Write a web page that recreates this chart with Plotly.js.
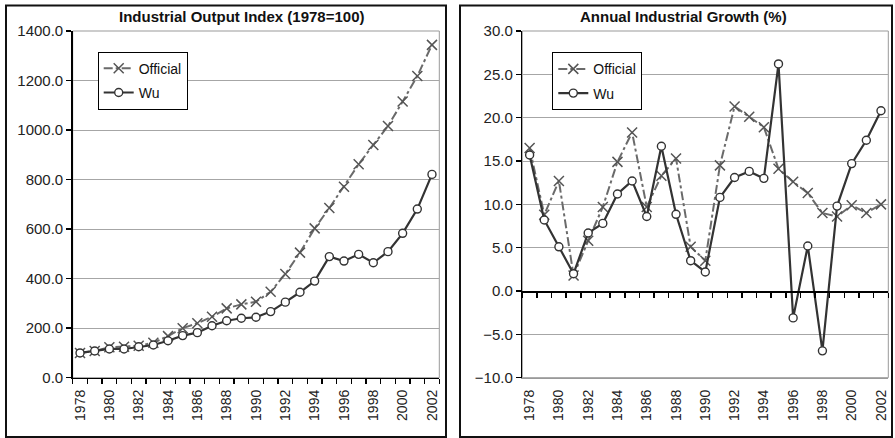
<!DOCTYPE html>
<html>
<head>
<meta charset="utf-8">
<script src="https://cdn.plot.ly/plotly-3.0.1.min.js"></script>
<style>
html,body{margin:0;padding:0;background:#fff;}
#chart{width:895px;height:438px;}
</style>
</head>
<body>
<div id="chart"></div>
<script>
// ---- data ----
const years = [1978,1979,1980,1981,1982,1983,1984,1985,1986,1987,1988,1989,1990,1991,1992,1993,1994,1995,1996,1997,1998,1999,2000,2001,2002];
const officialIndex = [100,108,123,125,129,141,168,200,220,246,280,296,307,347,419,505,603,685,771,862,940,1016,1115,1218,1344];
const wuIndex = [100,108,116,116,125,132,149,170,182,210,230,240,244,267,305,345,390,489,471,498,464,509,583,681,821];
const officialGrowth = [16.5,8.8,12.7,1.8,5.8,9.7,14.9,18.3,9.7,13.3,15.3,5.1,3.5,14.5,21.3,20.1,18.9,14.1,12.6,11.3,9.0,8.6,9.9,9.0,10.0];
const wuGrowth = [15.7,8.2,5.1,2.0,6.7,7.8,11.2,12.7,8.6,16.7,8.85,3.5,2.2,10.8,13.1,13.8,13.0,26.2,-3.1,5.2,-6.9,9.8,14.7,17.4,20.8];
const leftTitle = 'Industrial Output Index (1978=100)';
const rightTitle = 'Annual Industrial Growth (%)';
const seriesNames = ['Official','Wu'];

// ---- derived helpers ----
const labelYears = years.filter((y,i)=>i%2===0);
const boundaries = years.map(y=>y-0.5).concat([years[years.length-1]+0.5]);
const xr = [years[0]-0.5, years[years.length-1]+0.5];

const W = 895, H = 438;
const yDom = [(H-377.7)/H, (H-31)/H];
const xDomL = [72.7/W, 439.3/W];
const xDomR = [522.3/W, 888.3/W];
const rRange = [-10,30];
const zeroPos = yDom[0] + (yDom[1]-yDom[0]) * (0 - rRange[0])/(rRange[1]-rRange[0]);

const FONT = 'Liberation Sans, Arial, Helvetica, sans-serif';
const offLine = {color:'#6a6a6a', width:2, dash:'9px,3px,3px,3px'};
const offMarker = {symbol:'x-thin', size:10, color:'#555', line:{color:'#555', width:1.5}};
const wuLine = {color:'#333', width:2.2};
const wuMarker = {symbol:'circle', size:8, color:'#fff', line:{color:'#333', width:1.4}};

const ghost = (xa, ya, yv) => ({x:years, y:yv, mode:'lines', line:{width:0, color:'rgba(0,0,0,0)'}, opacity:0,
  showlegend:false, hoverinfo:'skip', xaxis:xa, yaxis:ya});

const traces = [
  ghost('x3','y', wuIndex),
  ghost('x4','y2', wuGrowth),
  {x:years, y:officialIndex, name:seriesNames[0], mode:'lines+markers', line:offLine, marker:offMarker, xaxis:'x', yaxis:'y', legend:'legend', legendgroup:'a'},
  {x:years, y:wuIndex, name:seriesNames[1], mode:'lines+markers', line:wuLine, marker:wuMarker, xaxis:'x', yaxis:'y', legend:'legend', legendgroup:'b'},
  {x:years, y:officialGrowth, name:seriesNames[0], mode:'lines+markers', line:offLine, marker:offMarker, xaxis:'x2', yaxis:'y2', legend:'legend2', legendgroup:'c'},
  {x:years, y:wuGrowth, name:seriesNames[1], mode:'lines+markers', line:wuLine, marker:wuMarker, xaxis:'x2', yaxis:'y2', legend:'legend2', legendgroup:'d'}
];

const tickFontX = {family:FONT, size:14, color:'#222'};
const tickFontY = {family:FONT, size:15, color:'#222'};

function labelAxis(domain, anchor, lineColor){
  return {domain:domain, anchor:anchor, range:xr, tickmode:'array', tickvals:labelYears, ticktext:labelYears.map(String),
    tickangle:-90, ticks:'outside', ticklen:5, tickcolor:'rgba(0,0,0,0)', showline:true, linecolor:lineColor, linewidth:1.5,
    showgrid:false, zeroline:false, tickfont:tickFontX, fixedrange:true};
}
function tickAxis(over, anchor, position){
  const a = {overlaying:over, range:xr, tickmode:'array', tickvals:boundaries, ticks:'outside', ticklen:5, tickcolor:'#000', tickwidth:1.5,
    showticklabels:false, showgrid:false, zeroline:false, showline:true, linecolor:'#000', linewidth:1.5, fixedrange:true};
  if (position !== undefined && position !== null){ a.anchor='free'; a.position=position; } else { a.anchor=anchor; }
  return a;
}
function valAxis(domain, anchor, range, dtick){
  return {domain:domain, anchor:anchor, range:range, dtick:dtick, tick0:0, tickformat:'.1f', ticks:'outside', ticklen:5, tickcolor:'#000', tickwidth:1.5,
    showline:true, linecolor:'#000', linewidth:1.5, gridcolor:'#a6a6a6', gridwidth:1, zeroline:false, tickfont:tickFontY, fixedrange:true};
}

const legendBase = {bgcolor:'#fff', bordercolor:'#000', borderwidth:1, font:{family:FONT, size:14, color:'#111'},
  xanchor:'left', yanchor:'top', tracegroupgap:3, traceorder:'grouped'};

const layout = {
  width:W, height:H, margin:{l:0,r:0,t:0,b:0}, paper_bgcolor:'#fff', plot_bgcolor:'#fff',
  font:{family:FONT},
  showlegend:true,
  legend:Object.assign({}, legendBase, {x:97.7/W, y:1-51.7/H}),
  legend2:Object.assign({}, legendBase, {x:552.3/W, y:1-52.3/H}),
  xaxis:labelAxis(xDomL, 'y', '#000'),
  xaxis3:tickAxis('x', 'y', null),
  yaxis:valAxis(yDom, 'x', [0,1400], 200),
  xaxis2:labelAxis(xDomR, 'y2', '#999'),
  xaxis4:tickAxis('x2', null, zeroPos),
  yaxis2:valAxis(yDom, 'x2', rRange, 5),
  annotations:[
    {text:'<b>'+leftTitle+'</b>', xref:'paper', yref:'paper', x:241.7/W, y:1-17/H, xanchor:'center', yanchor:'middle', showarrow:false, font:{family:FONT, size:15, color:'#111'}},
    {text:'<b>'+rightTitle+'</b>', xref:'paper', yref:'paper', x:683.7/W, y:1-17/H, xanchor:'center', yanchor:'middle', showarrow:false, font:{family:FONT, size:15, color:'#111'}}
  ],
  shapes:[
    {type:'rect', xref:'x domain', yref:'y domain', x0:0, x1:1, y0:0, y1:1, line:{color:'#999', width:1}, layer:'below'},
    {type:'rect', xref:'x2 domain', yref:'y2 domain', x0:0, x1:1, y0:0, y1:1, line:{color:'#999', width:1}, layer:'below'},
    {type:'rect', xref:'paper', yref:'paper', x0:6/W, x1:446/W, y0:1-437/H, y1:1-5.5/H, line:{color:'#111', width:2}},
    {type:'rect', xref:'paper', yref:'paper', x0:460/W, x1:892/W, y0:1-437/H, y1:1-5.5/H, line:{color:'#111', width:2}}
  ]
};

Plotly.newPlot('chart', traces, layout, {staticPlot:true, displayModeBar:false});
</script>
</body>
</html>
